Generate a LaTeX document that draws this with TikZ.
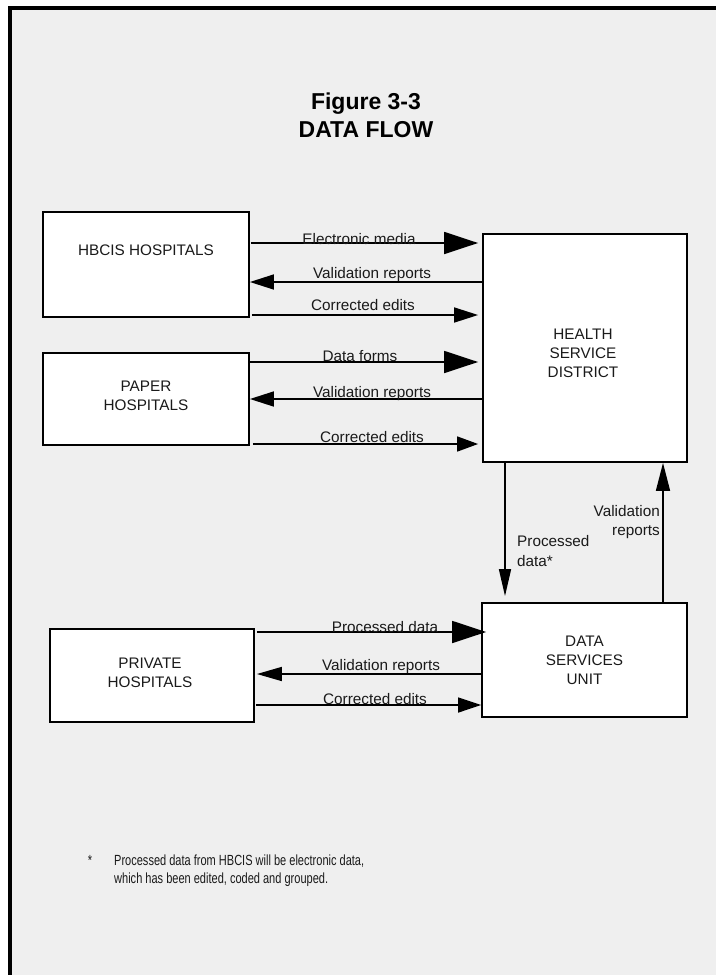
\documentclass[tikz,border=0pt]{standalone}
\usepackage{fontspec}
\setmainfont{Liberation Sans}
\newfontfamily\narrowfont[FakeStretch=0.75]{Liberation Sans}
\usetikzlibrary{arrows.meta}
\definecolor{bg}{HTML}{EFEFEF}
\definecolor{ink}{HTML}{1A1A1A}
\begin{document}
\begin{tikzpicture}[x=1pt,y=-1pt,
  box/.style={draw=black, line width=1.8pt, fill=white, inner sep=0pt},
  boxtext/.style={font=\fontsize{15.3}{19}\selectfont, align=center, inner sep=0pt, text=ink},
  lbl/.style={font=\fontsize{15.3}{19}\selectfont, anchor=base, inner sep=0pt, text=ink},
  flow/.style={line width=1.6pt},
  bigtip/.tip={Triangle[length=34pt,width=22pt]},
  medtip/.tip={Triangle[length=24pt,width=15pt]},
  vtip/.tip={Triangle[length=27pt,width=13pt]}
]
\useasboundingbox (0,0) rectangle (716,975);
\fill[white] (0,0) rectangle (716,975);
\fill[bg] (10,8) rectangle (716,975);
\draw[line width=4pt] (10,975) -- (10,8) -- (716,8);

% title
\node[font=\bfseries\fontsize{23}{28.5}\selectfont, align=center, inner sep=0pt] (title) at (366,115.5) {Figure 3-3\\DATA FLOW};

% boxes
\node[box, minimum width=206pt, minimum height=105pt] (hbcis) at (146,264.5) {};
\node[boxtext] (hbcisT) at (146,250) {HBCIS HOSPITALS};
\node[box, minimum width=206pt, minimum height=92pt] (paper) at (146,399) {};
\node[boxtext] (paperT) at (146,396) {PAPER\\HOSPITALS};
\node[box, minimum width=204pt, minimum height=228pt] (hsd) at (585,348) {};
\node[boxtext] (hsdT) at (583,353) {HEALTH\\SERVICE\\DISTRICT};
\node[box, minimum width=204pt, minimum height=93pt] (private) at (152,675.5) {};
\node[boxtext] (privT) at (150,672.5) {PRIVATE\\HOSPITALS};
\node[box, minimum width=205pt, minimum height=114pt] (dsu) at (584.5,660) {};
\node[boxtext] (dsuT) at (584.5,660) {DATA\\SERVICES\\UNIT};

% HBCIS <-> HSD
\draw[flow,-{bigtip}, shorten <=1pt, shorten >=4pt] (hbcis.east |- 0,243) -- (hsd.west |- 0,243);
\draw[flow,-{medtip}] (hsd.west |- 0,282) -- (hbcis.east |- 0,282);
\draw[flow,-{medtip}, shorten <=2pt, shorten >=4pt] (hbcis.east |- 0,315) -- (hsd.west |- 0,315);
\node[lbl] (l1) at (359,244) {Electronic media};
\node[lbl] (l2) at (372,278) {Validation reports};
\node[lbl] (l3) at (363,310.5) {Corrected edits};

% PAPER <-> HSD
\draw[flow,-{bigtip}, shorten >=4pt] (paper.east |- 0,362) -- (hsd.west |- 0,362);
\draw[flow,-{medtip}] (hsd.west |- 0,399) -- (paper.east |- 0,399);
\draw[flow,-{Triangle[length=21pt,width=15pt]}, shorten <=3pt, shorten >=4pt] (paper.east |- 0,444) -- (hsd.west |- 0,444);
\node[lbl] (l4) at (360,361) {Data forms};
\node[lbl] (l5) at (372,397) {Validation reports};
\node[lbl] (l6) at (372,442) {Corrected edits};

% HSD <-> DSU
\draw[flow,-{Triangle[length=27pt,width=12pt]}, shorten >=6pt] (hsd.south -| 505,0) -- (dsu.north -| 505,0);
\draw[flow,-{Triangle[length=28pt,width=14pt]}] (dsu.north -| 663,0) -- (hsd.south -| 663,0);
\node[font=\fontsize{15.3}{19.5}\selectfont, align=left, anchor=west, inner sep=0pt, text=ink] (l7) at (517,551) {Processed\\data*};
\node[font=\fontsize{15.3}{19}\selectfont, align=right, anchor=east, inner sep=0pt, text=ink] (l8) at (660,522) {Validation\\reports};

% PRIVATE <-> DSU
\draw[flow,-{bigtip}, shorten <=2pt, shorten >=-5pt] (private.east |- 0,632) -- (dsu.west |- 0,632);
\draw[flow,-{Triangle[length=25pt,width=14pt]}, shorten >=2pt] (dsu.west |- 0,674) -- (private.east |- 0,674);
\draw[flow,-{Triangle[length=23pt,width=15pt]}, shorten <=1pt] (private.east |- 0,705) -- (dsu.west |- 0,705);
\node[lbl] (l9) at (385,632) {Processed data};
\node[lbl] (l10) at (381,670) {Validation reports};
\node[lbl] (l11) at (375,704) {Corrected edits};

% footnote
\node[font=\narrowfont\fontsize{14.7}{18}\selectfont, anchor=base, inner sep=0pt, text=ink] (star) at (90,865.5) {*};
\node[font=\narrowfont\fontsize{14.7}{18}\selectfont, align=left, anchor=north west, inner sep=0pt, text=ink] (foot) at (114,854.5) {Processed data from HBCIS will be electronic data,\\which has been edited, coded and grouped.};
\end{tikzpicture}
\end{document}
